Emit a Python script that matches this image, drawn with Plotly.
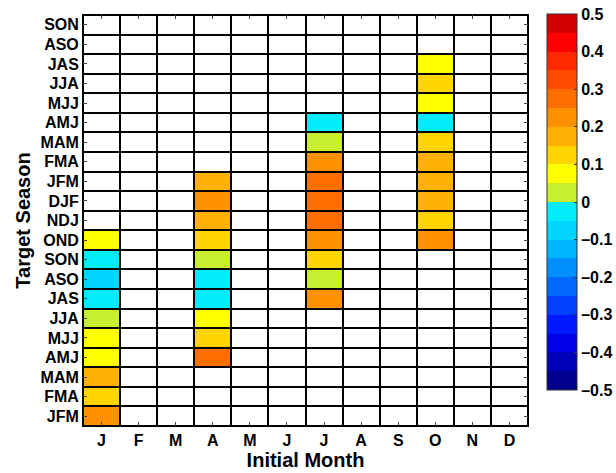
import plotly.graph_objects as go

# Initial months (columns) and target seasons (rows, bottom to top)
months = ["J", "F", "M", "A", "M", "J", "J", "A", "S", "O", "N", "D"]
seasons = ["JFM", "FMA", "MAM", "AMJ", "MJJ", "JJA", "JAS", "ASO", "SON", "OND",
           "NDJ", "DJF", "JFM", "FMA", "MAM", "AMJ", "MJJ", "JJA", "JAS", "ASO", "SON"]

N = None
# Skill values per initial month, indexed by target season (bottom row first)
jan_init = [0.21, 0.13, 0.17, 0.08, 0.07, 0.03, -0.03, -0.08, -0.04, 0.07,
            N, N, N, N, N, N, N, N, N, N, N]
apr_init = [N, N, N, 0.27, 0.13, 0.08, -0.03, -0.03, 0.03, 0.13,
            0.18, 0.22, 0.17, N, N, N, N, N, N, N, N]
jul_init = [N, N, N, N, N, N, 0.21, 0.03, 0.14, 0.24,
            0.27, 0.27, 0.26, 0.21, 0.03, -0.03, N, N, N, N, N]
oct_init = [N, N, N, N, N, N, N, N, N, 0.22,
            0.14, 0.17, 0.17, 0.17, 0.12, -0.03, 0.08, 0.13, 0.08, N, N]

columns = {0: jan_init, 3: apr_init, 6: jul_init, 9: oct_init}

nrow, ncol = len(seasons), len(months)
z = [[None] * ncol for _ in range(nrow)]
for c, vals in columns.items():
    for r, v in enumerate(vals):
        z[r][c] = v

# Discrete 0.05-step palette from -0.5 to 0.5
bin_colors = [
    "#00008c", "#0000b8", "#0000e6", "#0018ff", "#0040ff",
    "#0068ff", "#0090ff", "#00b4ff", "#00d4ff", "#00ecf8",
    "#c8ef2e", "#ffff00", "#ffd400", "#ffb000", "#ff9000",
    "#ff6e00", "#ff4c00", "#ff2a00", "#ff0000", "#d40000",
]
nb = len(bin_colors)
colorscale = []
for i, col in enumerate(bin_colors):
    colorscale.append([i / nb, col])
    colorscale.append([(i + 1) / nb, col])

xs = list(range(ncol))
ys = list(range(nrow))
gap = 2

fig = go.Figure()
# White background cells
fig.add_trace(go.Heatmap(
    x=xs, y=ys, z=[[0] * ncol for _ in range(nrow)],
    colorscale=[[0, "white"], [1, "white"]], showscale=False,
    xgap=gap, ygap=gap, hoverinfo="skip",
))
# Skill values
fig.add_trace(go.Heatmap(
    x=xs, y=ys, z=z, colorscale=colorscale, zmin=-0.5, zmax=0.5,
    xgap=gap, ygap=gap,
    colorbar=dict(
        thickness=30, lenmode="pixels", len=376,
        x=1.0427, xanchor="left", y=1.0024, yanchor="top",
        outlinecolor="#333", outlinewidth=1,
        tickvals=[-0.5, -0.4, -0.3, -0.2, -0.1, 0, 0.1, 0.2, 0.3, 0.4, 0.5],
        ticktext=["\u20130.5", "\u20130.4", "\u20130.3", "\u20130.2", "\u20130.1",
                  "0", "0.1", "0.2", "0.3", "0.4", "0.5"],
        ticks="inside", ticklen=3, tickcolor="#333",
        tickfont=dict(family="Liberation Sans", size=16, color="black", weight="bold"),
        ypad=0, xpad=0,
    ),
))

axis_font = dict(family="Liberation Sans", size=16, color="black", weight="bold")
title_font = dict(family="Liberation Sans", size=20, color="black", weight="bold")

fig.update_layout(
    width=616, height=473,
    margin=dict(l=83, r=88, t=15, b=47, autoexpand=False),
    paper_bgcolor="white", plot_bgcolor="black",
    xaxis=dict(
        range=[-0.5, ncol - 0.5], tickvals=xs, ticktext=months,
        showgrid=False, zeroline=False, showline=True, linecolor="black",
        linewidth=1, mirror="ticks", ticks="inside", ticklen=4, tickcolor="#444",
        tickfont=axis_font, layer="above traces", automargin=False,
        title=dict(text="Initial Month", font=title_font, standoff=2),
    ),
    yaxis=dict(
        range=[-0.5, nrow - 0.5], tickvals=ys, ticktext=seasons,
        showgrid=False, zeroline=False, showline=True, linecolor="black",
        linewidth=1, mirror="ticks", ticks="inside", ticklen=4, tickcolor="#444",
        tickfont=axis_font, layer="above traces", automargin=False,
        title=dict(text="Target Season", font=title_font, standoff=4),
    ),
)

fig.write_html("out.html")
